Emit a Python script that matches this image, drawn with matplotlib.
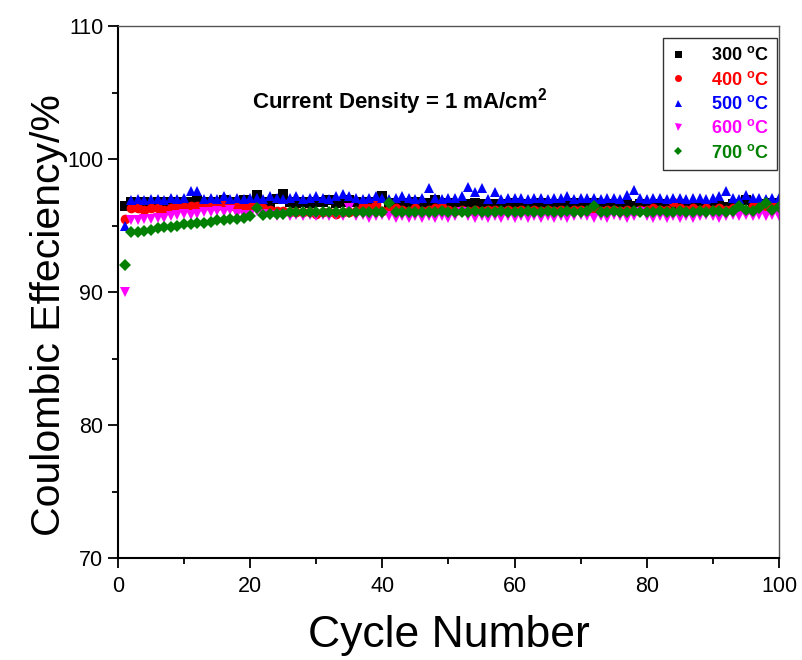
import matplotlib
matplotlib.use("Agg")
import matplotlib.pyplot as plt
from matplotlib.ticker import MultipleLocator

plt.rcParams['font.family'] = ['Liberation Sans', 'DejaVu Sans']
plt.rcParams['mathtext.fontset'] = 'custom'
plt.rcParams['mathtext.rm'] = 'Liberation Sans'
plt.rcParams['mathtext.bf'] = 'Liberation Sans:bold'

# cycle numbers 1..100
cycles = list(range(1, 101))

ce_300 = [96.5,
          96.8, 96.7, 96.8, 96.7, 96.8, 96.8, 96.7, 96.8, 96.7,
          96.8, 96.9, 96.8, 96.7, 96.8, 96.9, 96.8, 96.8, 96.9, 96.8,
          97.3, 96.8, 96.7, 97.0, 97.4, 96.8, 96.7, 96.8, 96.7, 96.8,
          96.8, 96.9, 96.7, 96.8, 96.9, 96.8, 96.7, 96.8, 96.7, 97.2,
          96.6, 96.7, 96.6, 96.7, 96.8, 96.6, 96.7, 96.9, 96.6, 96.7,
          96.6, 96.5, 96.6, 96.7, 96.6, 96.5, 96.6, 96.6, 96.5, 96.7,
          96.6, 96.5, 96.6, 96.7, 96.6, 96.5, 96.6, 96.6, 96.7, 96.5,
          96.6, 96.7, 96.5, 96.6, 96.6, 96.5, 96.6, 96.5, 96.6, 96.5,
          96.5, 96.6, 96.5, 96.5, 96.6, 96.5, 96.5, 96.4, 96.5, 96.5,
          96.5, 96.4, 96.6, 96.5, 96.9, 96.5, 96.5, 96.6, 96.7, 96.6]

ce_400 = [95.5,
          96.3, 96.3, 96.2, 96.3, 96.3, 96.2, 96.3, 96.4, 96.4,
          96.5, 96.5, 96.5, 96.6, 96.5, 96.6, 96.5, 96.5, 96.4, 96.5,
          96.6, 96.3, 96.2, 96.1, 96.1, 96.0, 96.0, 96.0, 96.0, 95.9,
          96.0, 96.0, 95.9, 96.0, 96.0, 96.1, 96.5, 96.3, 96.6, 96.1,
          96.2, 96.3, 96.2, 96.1, 96.3, 96.1, 96.2, 96.3, 96.4, 96.2,
          96.1, 96.2, 96.1, 96.2, 96.1, 96.2, 96.2, 96.1, 96.2, 96.1,
          96.2, 96.1, 96.2, 96.1, 96.2, 96.1, 96.2, 96.1, 96.2, 96.2,
          96.1, 96.2, 96.1, 96.2, 96.2, 96.1, 96.2, 96.1, 96.2, 96.2,
          96.3, 96.2, 96.2, 96.8, 96.3, 96.2, 96.3, 96.2, 96.3, 96.2,
          96.3, 96.2, 96.3, 96.3, 96.2, 96.5, 96.6, 96.5, 96.6, 96.4]

ce_500 = [95.0,
          96.9, 97.0, 96.9, 97.0, 97.0, 96.9, 97.1, 97.0, 97.1,
          97.6, 97.6, 97.0, 97.1, 97.0, 97.2, 97.0, 97.1, 97.0, 97.1,
          97.1, 97.0, 97.2, 97.1, 97.0, 97.1, 97.2, 97.0, 97.1, 97.2,
          97.1, 97.0, 97.2, 97.4, 97.2, 97.1, 97.0, 97.1, 97.2, 97.1,
          97.0, 97.1, 97.2, 97.1, 97.0, 97.1, 97.8, 97.1, 97.0, 97.1,
          97.1, 97.2, 97.9, 97.5, 97.8, 97.0, 97.5, 97.0, 97.1, 97.1,
          97.1, 97.0, 97.1, 97.1, 97.0, 97.1, 97.1, 97.2, 97.0, 97.1,
          97.1, 97.1, 97.0, 97.1, 97.1, 97.0, 97.3, 97.7, 97.1, 97.0,
          97.1, 97.1, 97.0, 97.1, 97.1, 97.0, 97.1, 97.1, 97.0, 97.1,
          97.2, 97.6, 97.1, 97.0, 97.3, 97.1, 97.1, 97.0, 97.1, 97.1]

ce_600 = [90.0,
          95.4, 95.4, 95.5, 95.5, 95.6, 95.6, 95.7, 95.8, 95.9,
          95.8, 95.9, 96.0, 96.0, 96.1, 96.0, 96.2, 95.9, 95.8, 95.8,
          96.1, 95.9, 95.8, 95.7, 95.8, 95.7, 95.8, 95.7, 95.8, 95.7,
          95.8, 95.7, 95.8, 95.7, 96.3, 95.7, 95.8, 95.6, 95.7, 95.8,
          95.7, 95.6, 95.7, 95.6, 95.7, 95.6, 95.7, 95.6, 95.7, 95.6,
          95.7, 96.0, 95.7, 95.6, 95.7, 95.6, 95.7, 95.6, 95.7, 95.6,
          95.7, 95.6, 95.7, 95.6, 95.7, 95.6, 95.7, 95.6, 95.7, 95.8,
          95.7, 95.6, 95.7, 95.6, 95.8, 95.7, 95.6, 95.7, 96.0, 95.7,
          95.6, 95.7, 95.6, 95.7, 95.6, 95.7, 95.6, 95.7, 95.8, 95.7,
          95.6, 95.7, 95.8, 95.7, 95.8, 95.7, 95.8, 95.7, 95.8, 95.7]

ce_700 = [92.0,
          94.5, 94.5, 94.6, 94.7, 94.8, 94.9, 94.9, 95.0, 95.1,
          95.1, 95.2, 95.2, 95.3, 95.4, 95.4, 95.5, 95.5, 95.6, 95.7,
          96.3, 95.8, 95.9, 95.9, 95.9, 96.0, 96.0, 96.0, 96.0, 96.0,
          96.0, 96.0, 96.0, 96.0, 96.0, 96.0, 96.0, 96.0, 96.0, 96.0,
          96.7, 96.0, 96.0, 96.0, 96.0, 96.0, 96.0, 96.0, 96.1, 96.0,
          96.0, 96.0, 96.0, 96.1, 96.0, 96.0, 96.0, 96.1, 96.0, 96.0,
          96.0, 96.1, 96.0, 96.0, 96.1, 96.0, 96.0, 96.1, 96.0, 96.0,
          96.1, 96.5, 96.0, 96.0, 96.1, 96.0, 96.0, 96.1, 96.0, 96.0,
          96.0, 96.1, 96.0, 96.0, 96.1, 96.0, 96.0, 96.1, 96.0, 96.1,
          96.1, 96.0, 96.1, 96.5, 96.2, 96.1, 96.3, 96.7, 96.2, 96.4]

labels = ['300', '400', '500', '600', '700']
colors = ['black', '#FF0000', '#0000FF', '#FF00FF', '#008000']
markers = ['s', 'o', '^', 'v', 'D']
series = [ce_300, ce_400, ce_500, ce_600, ce_700]

fig = plt.figure(figsize=(8.02, 6.6), dpi=100)
ax = fig.add_axes([0.1471, 0.1545, 0.8242, 0.806])

for lab, c, m, vals in zip(labels, colors, markers, series):
    ms = 6.0 if m == 'D' else 7.0
    ax.plot(cycles, vals, linestyle='none', marker=m, color=c, markersize=ms,
            markeredgewidth=0, label=lab + r' $^{\mathbf{o}}$C')

ax.set_xlim(0, 100)
ax.set_ylim(70, 110)
ax.xaxis.set_major_locator(MultipleLocator(20))
ax.xaxis.set_minor_locator(MultipleLocator(10))
ax.yaxis.set_major_locator(MultipleLocator(10))
ax.yaxis.set_minor_locator(MultipleLocator(5))
ax.tick_params(which='both', direction='out', top=False, right=False, width=1.3)
ax.tick_params(which='major', length=7, labelsize=15.5)
ax.tick_params(which='minor', length=4)
ax.tick_params(axis='x', which='major', labelsize=15.5, pad=6)

for side in ['left', 'bottom']:
    ax.spines[side].set_linewidth(1.5)
for side in ['top', 'right']:
    ax.spines[side].set_color('#555555')
    ax.spines[side].set_linewidth(1.0)

ax.set_xlabel('Cycle Number', fontsize=32)
ax.xaxis.set_label_coords(0.5, -0.108)
ax.set_ylabel('Coulombic Effeciency/%', fontsize=29.5)
ax.yaxis.set_label_coords(-0.075, 0.457)

ax.text(42.6, 104.3, r'Current Density = 1 mA/cm$^{\mathbf{2}}$', fontsize=16,
        fontweight='bold', ha='center', va='center')

leg = ax.legend(loc='upper right', bbox_to_anchor=(0.997, 0.977),
                prop={'weight': 'bold', 'size': 13}, frameon=True, fancybox=False,
                edgecolor='black', handlelength=0.8, handletextpad=1.4,
                labelspacing=0.35, borderpad=0.45, markerscale=0.72,
                borderaxespad=0, labelcolor='markerfacecolor')
leg.get_frame().set_linewidth(1.0)

fig.savefig('out.png', dpi=100)
